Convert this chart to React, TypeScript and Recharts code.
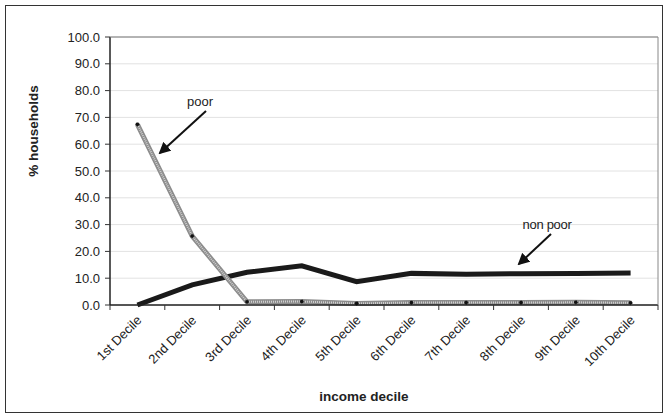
import { LineChart, Line, XAxis, YAxis, CartesianGrid } from 'recharts'

const deciles = ['1st Decile', '2nd Decile', '3rd Decile', '4th Decile', '5th Decile', '6th Decile', '7th Decile', '8th Decile', '9th Decile', '10th Decile']
const poor = [67.4, 25.7, 1.2, 1.3, 0.6, 0.9, 0.9, 0.9, 1.0, 0.8]
const nonpoor = [0.0, 7.5, 12.2, 14.6, 8.7, 11.8, 11.5, 11.7, 11.8, 11.9]
const yTicks = [0, 10, 20, 30, 40, 50, 60, 70, 80, 90, 100]

const data = deciles.map((d, i) => ({ decile: d, poor: poor[i], nonpoor: nonpoor[i] }))

const W = 669
const H = 418
const LEFT = 110
const RIGHT = 658
const TOP = 37
const BOTTOM = 305
const STEP = (RIGHT - LEFT) / deciles.length
const FONT = '"Liberation Sans", Arial, sans-serif'

function DecileTick({ x, y, payload, index }: any) {
  return (
    <g>
      {index === 0 && <line x1={x - STEP / 2} y1={BOTTOM} x2={x - STEP / 2} y2={BOTTOM + 5} stroke="#333" strokeWidth={1} />}
      <line x1={x + STEP / 2} y1={BOTTOM} x2={x + STEP / 2} y2={BOTTOM + 5} stroke="#333" strokeWidth={1} />
      <text x={x + 5} y={BOTTOM + 16} transform={`rotate(-45 ${x + 5} ${BOTTOM + 16})`} textAnchor="end"
        fontSize={13} fontFamily={FONT} fill="#222">{payload.value}</text>
    </g>
  )
}

export default function App() {
  return (
    <div style={{ position: 'absolute', left: 0, top: 0, width: W, height: H, background: '#fff', fontFamily: FONT }}>
      <div style={{ position: 'absolute', left: 5, top: 5, width: 656, height: 406, border: '1.5px solid #333' }} />
      <LineChart width={W} height={H} data={data} margin={{ top: TOP, right: W - RIGHT, bottom: 33, left: 50 }}
        style={{ position: 'absolute', left: 0, top: 0 }}>
        <CartesianGrid vertical={false} stroke="#e2e2e2" strokeWidth={1} />
        <XAxis dataKey="decile" interval={0} height={80} tick={<DecileTick />} tickLine={false}
          padding={{ left: STEP / 2, right: STEP / 2 }}
          axisLine={{ stroke: '#222', strokeWidth: 1.5 }} />
        <YAxis width={60} domain={[0, 100]} ticks={yTicks} interval={0} tickFormatter={(v: number) => v.toFixed(1)}
          tick={{ fontSize: 13, fill: '#222', fontFamily: FONT }} tickSize={5} tickMargin={5}
          tickLine={{ stroke: '#333' }} axisLine={{ stroke: '#222', strokeWidth: 1.5 }} />
        <Line dataKey="nonpoor" stroke="#1a1a1a" strokeWidth={5} dot={false} isAnimationActive={false} />
        <Line dataKey="poor" stroke="#8c8c8c" strokeWidth={5} dot={false} isAnimationActive={false} />
        <Line dataKey="poor" stroke="#cfcfcf" strokeWidth={2} strokeDasharray="1 1"
          dot={{ r: 1.8, fill: '#111', stroke: '#111', strokeWidth: 0.5 }} isAnimationActive={false} />
      </LineChart>
      <svg width={W} height={H} style={{ position: 'absolute', left: 0, top: 0, pointerEvents: 'none' }}>
        <defs>
          <marker id="ah" markerWidth="6" markerHeight="6" refX="5" refY="3" orient="auto" markerUnits="strokeWidth">
            <path d="M0,0 L6,3 L0,6 z" fill="#111" />
          </marker>
        </defs>
        <line x1={LEFT} y1={TOP} x2={RIGHT} y2={TOP} stroke="#777" strokeWidth={1} />
        <line x1={RIGHT} y1={TOP} x2={RIGHT} y2={BOTTOM} stroke="#888" strokeWidth={1} />
        <text x={200} y={106} textAnchor="middle" fontSize={13} fontFamily={FONT} fill="#222">poor</text>
        <line x1={206} y1={111} x2={160} y2={153} stroke="#111" strokeWidth={2} markerEnd="url(#ah)" />
        <text x={547} y={229} textAnchor="middle" fontSize={13} fontFamily={FONT} fill="#222" letterSpacing={-0.3}>non poor</text>
        <line x1={551} y1={234} x2={519} y2={264} stroke="#111" strokeWidth={2} markerEnd="url(#ah)" />
        <text x={38} y={131} transform="rotate(-90 38 131)" textAnchor="middle" fontSize={13.5} fontWeight="bold"
          fontFamily={FONT} fill="#222">% households</text>
        <text x={364} y={401} textAnchor="middle" fontSize={13.5} fontWeight="bold" fontFamily={FONT} fill="#222">income decile</text>
      </svg>
    </div>
  )
}
